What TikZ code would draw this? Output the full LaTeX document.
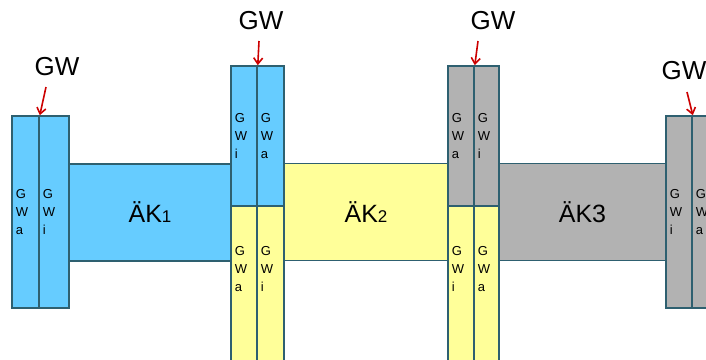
\documentclass[tikz,border=0pt]{standalone}
\usepackage{fontspec}
\setmainfont{Liberation Sans}
\usetikzlibrary{arrows.meta, positioning}
\definecolor{gwblue}{HTML}{66CCFF}
\definecolor{gwyellow}{HTML}{FFFF99}
\definecolor{gwgrey}{HTML}{B2B2B2}
\definecolor{gwline}{HTML}{2E6070}
\definecolor{gwred}{HTML}{CC0000}

\begin{document}
\begin{tikzpicture}[
    x=1pt, y=-1pt,
    cell/.style={rectangle, draw=gwline, line width=1.6pt, inner sep=0pt},
    bar/.style={cell, minimum height=97pt, font=\fontsize{25}{28}\selectfont},
    gwtxt/.style={anchor=west, align=left, inner sep=0pt,
                  font=\fontsize{13}{18}\selectfont},
    gwlbl/.style={font=\fontsize{26}{30}\selectfont},
    arr/.style={-{Straight Barb[length=6pt, width=9pt]}, gwred, line width=1.6pt}
]
    \useasboundingbox (0,0) rectangle (706,359);
    \clip (0,0) rectangle (706,359);

    % Aenderungskanaele
    \node[bar, fill=gwblue, minimum width=162pt] (k1) at (150,212.5)
        {ÄK{\fontsize{17}{20}\selectfont 1}};
    \node[bar, fill=gwyellow, minimum width=164pt] (k2) at (366,212)
        {ÄK{\fontsize{17}{20}\selectfont 2}};
    \node[bar, fill=gwgrey, minimum width=167pt] (k3) at (582.5,212) {ÄK3};

    % linker Block
    \node[cell, fill=gwblue, minimum width=27pt, minimum height=192pt] (lba) at (25.5,212) {};
    \node[cell, fill=gwblue, minimum width=30pt, minimum height=192pt] (lbi) at (54,212) {};
    \node[gwtxt] (tlba) at ([xshift=4.5pt]lba.west) {G\\W\\a};
    \node[gwtxt] (tlbi) at ([xshift=4.5pt]lbi.west) {G\\W\\i};

    % Spalte 2
    \node[cell, fill=gwblue, minimum width=26pt, minimum height=140pt] (c2ti) at (244,136) {};
    \node[cell, fill=gwblue, minimum width=27pt, minimum height=140pt] (c2ta) at (270.5,136) {};
    \node[cell, fill=gwyellow, minimum width=26pt, minimum height=194pt] (c2ba) at (244,303) {};
    \node[cell, fill=gwyellow, minimum width=27pt, minimum height=194pt] (c2bi) at (270.5,303) {};
    \node[gwtxt] (tc2ti) at ([xshift=4.5pt]c2ti.west) {G\\W\\i};
    \node[gwtxt] (tc2ta) at ([xshift=4.5pt]c2ta.west) {G\\W\\a};
    \node[gwtxt] (tc2ba) at ([xshift=4.5pt]c2ba.north west) [yshift=-64pt] {G\\W\\a};
    \node[gwtxt] (tc2bi) at ([xshift=4.5pt]c2bi.north west) [yshift=-64pt] {G\\W\\i};

    % Spalte 3
    \node[cell, fill=gwgrey, minimum width=26pt, minimum height=140pt] (c3ta) at (461,136) {};
    \node[cell, fill=gwgrey, minimum width=25pt, minimum height=140pt] (c3ti) at (486.5,136) {};
    \node[cell, fill=gwyellow, minimum width=26pt, minimum height=194pt] (c3bi) at (461,303) {};
    \node[cell, fill=gwyellow, minimum width=25pt, minimum height=194pt] (c3ba) at (486.5,303) {};
    \node[gwtxt] (tc3ta) at ([xshift=4.5pt]c3ta.west) {G\\W\\a};
    \node[gwtxt] (tc3ti) at ([xshift=4.5pt]c3ti.west) {G\\W\\i};
    \node[gwtxt] (tc3bi) at ([xshift=4.5pt]c3bi.north west) [yshift=-64pt] {G\\W\\i};
    \node[gwtxt] (tc3ba) at ([xshift=4.5pt]c3ba.north west) [yshift=-64pt] {G\\W\\a};

    % rechter Block
    \node[cell, fill=gwgrey, minimum width=26pt, minimum height=192pt] (rbi) at (679,212) {};
    \node[cell, fill=gwgrey, minimum width=28pt, minimum height=192pt] (rba) at (706,212) {};
    \node[gwtxt] (trbi) at ([xshift=4.5pt]rbi.west) {G\\W\\i};
    \node[gwtxt] (trba) at ([xshift=4.5pt]rba.west) {G\\W\\a};

    % GW Beschriftungen
    \node[gwlbl] (gw1) at (57,67) {GW};
    \node[gwlbl] (gw2) at (261,21) {GW};
    \node[gwlbl] (gw3) at (493,21) {GW};
    \node[gwlbl] (gw4) at (684,71) {GW};

    \coordinate (s1) at (46,87);
    \coordinate (s2) at (259,41);
    \coordinate (s3) at (478,41);
    \coordinate (s4) at (687,92);

    \draw[arr] (s1) -- (lba.north east);
    \draw[arr] (s2) -- (c2ti.north east);
    \draw[arr] (s3) -- (c3ta.north east);
    \draw[arr] (s4) -- (rbi.north east);
\end{tikzpicture}
\end{document}
